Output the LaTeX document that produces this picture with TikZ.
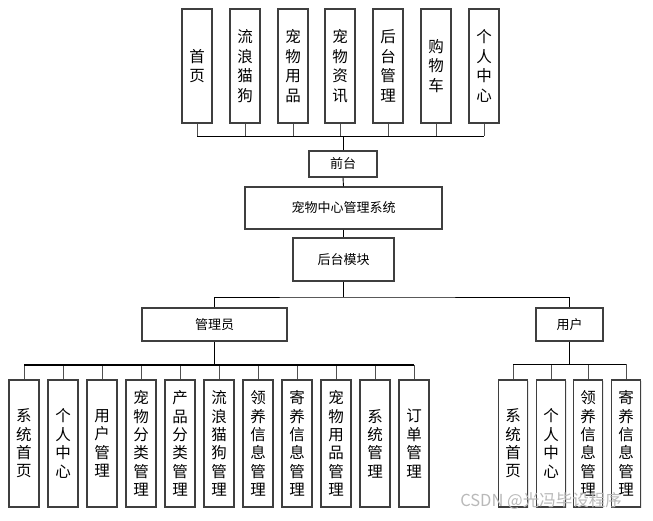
\documentclass[tikz,border=0pt]{standalone}
\usepackage{fontspec}
\setmainfont{Noto Sans CJK SC}
\usetikzlibrary{shadows}
\definecolor{boxgray}{HTML}{3F3F3F}
\definecolor{stemgray}{HTML}{505050}
\tikzset{
  boxbase/.style={draw=boxgray, line width=1.1pt, fill=white, inner sep=0pt, align=center,
    drop shadow={shadow xshift=1.2pt, shadow yshift=-1.2pt, opacity=0.18, fill=gray}},
  topbox/.style={boxbase, minimum width=30pt, minimum height=114pt, font=\fontsize{15.5}{19.5}\selectfont},
  botbox/.style={boxbase, minimum width=30pt, minimum height=127pt, font=\fontsize{15.5}{18.4}\selectfont},
  midbox/.style={boxbase, font=\fontsize{13}{15}\selectfont},
  stem/.style={draw=stemgray, line width=1pt},
  busline/.style={draw=black, line width=1.4pt},
  link/.style={draw=black, line width=0.9pt},
}
\begin{document}
\begin{tikzpicture}[x=1pt,y=-1pt]
\useasboundingbox (0,0) rectangle (653,520);
% top row
\node[topbox] (t1) at (197,66) {首\\页};
\node[topbox] (t2) at (245,66) {流\\浪\\猫\\狗};
\node[topbox] (t3) at (293,66) {宠\\物\\用\\品};
\node[topbox] (t4) at (340,66) {宠\\物\\资\\讯};
\node[topbox] (t5) at (388,66) {后\\台\\管\\理};
\node[topbox] (t6) at (436,66) {购\\物\\车};
\node[topbox] (t7) at (484,66) {个\\人\\中\\心};
% middle
\node[midbox, minimum width=68pt, minimum height=26pt] (front) at (343,164) {前台};
\node[midbox, minimum width=197pt, minimum height=42pt] (sys) at (343.5,208) {宠物中心管理系统};
\node[midbox, minimum width=101pt, minimum height=43pt] (back) at (343.5,259.5) {后台模块};
\node[midbox, minimum width=145pt, minimum height=33pt] (admin) at (214.5,324.5) {管理员};
\node[midbox, minimum width=67pt, minimum height=33pt] (user) at (569.5,324.5) {用户};
% admin children
\node[botbox] (a1) at (24,443.5) {系\\统\\首\\页};
\node[botbox] (a2) at (63,443.5) {个\\人\\中\\心};
\node[botbox] (a3) at (102,443.5) {用\\户\\管\\理};
\node[botbox] (a4) at (141,443.5) {宠\\物\\分\\类\\管\\理};
\node[botbox] (a5) at (180,443.5) {产\\品\\分\\类\\管\\理};
\node[botbox] (a6) at (219,443.5) {流\\浪\\猫\\狗\\管\\理};
\node[botbox] (a7) at (258,443.5) {领\\养\\信\\息\\管\\理};
\node[botbox] (a8) at (297,443.5) {寄\\养\\信\\息\\管\\理};
\node[botbox] (a9) at (336,443.5) {宠\\物\\用\\品\\管\\理};
\node[botbox] (a10) at (375,443.5) {系\\统\\管\\理};
\node[botbox] (a11) at (414,443.5) {订\\单\\管\\理};
% user children
\node[botbox, minimum width=29pt] (u1) at (513,443.5) {系\\统\\首\\页};
\node[botbox, minimum width=29pt] (u2) at (551,443.5) {个\\人\\中\\心};
\node[botbox, minimum width=29pt] (u3) at (588,443.5) {领\\养\\信\\息\\管\\理};
\node[botbox, minimum width=29pt] (u4) at (626,443.5) {寄\\养\\信\\息\\管\\理};
% top bus
\coordinate (tb) at (343,136);
\foreach \i in {1,...,7} { \draw[stem] (t\i.south) -- (t\i.south |- tb); }
\draw[link] (t1.south |- tb) -- (t7.south |- tb);
\draw[link] (tb) -- (front.north);
\draw[link] (front.south) -- (sys.north);
\draw[link] (sys.south) -- (back.north);
% back to admin/user
\coordinate (hub) at (343.5,297);
\draw[link] (back.south) -- (hub);
\draw[link] (admin.north) |- (hub) -| (user.north);
% admin bus
\coordinate (ab) at (214.5,365);
\draw[busline] (admin.south) -- (ab);
\foreach \i in {1,...,11} { \draw[stem] (a\i.north) -- (a\i.north |- ab); }
\draw[busline] (a1.north |- ab) -- (a11.north |- ab);
% user bus
\coordinate (ub) at (569.5,364);
\draw[busline] (user.south) -- (ub);
\foreach \i in {1,...,4} { \draw[stem] (u\i.north) -- (u\i.north |- ub); }
\draw[link] (u1.north |- ub) -- (u4.north |- ub);
% watermark
\node[text=gray!55, font=\fontsize{16.5}{16.5}\selectfont, inner sep=0pt] (wm) at (541,501) {CSDN @光冯毕设程序};
\end{tikzpicture}
\end{document}
